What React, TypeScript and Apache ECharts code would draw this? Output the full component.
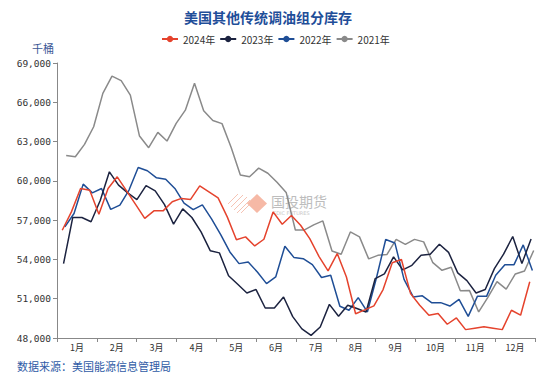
import React, { useEffect, useRef } from "react";
import * as echarts from "echarts";

const months = ["1月", "2月", "3月", "4月", "5月", "6月", "7月", "8月", "9月", "10月", "11月", "12月"];
const seriesNames = ["2024年", "2023年", "2022年", "2021年"];
const firstWeekEnd = ["2024-01-05", "2023-01-06", "2022-01-07", "2021-01-08"];
const colors = ["#E5432D", "#1C2340", "#1F4E96", "#8A8A8A"];

const v2024 = [56230, 57630, 59420, 59290, 57450, 59420, 60310, 59250, 58200, 57130, 57710, 57710, 58400, 58660, 58580, 59620, 59160, 58700, 57250, 55500, 55720, 55030, 55540, 57630, 56690, 57350, 56610, 55590, 54240, 53120, 54450, 52660, 49850, 50150, 50450, 51700, 53750, 53990, 51390, 50500, 49740, 49870, 49050, 49530, 48640, 48750, 48860, 48750, 48640, 50120, 49740, 52300];
const v2023 = [53680, 57200, 57200, 56880, 58500, 60690, 59670, 59080, 58570, 59640, 59240, 58200, 56700, 57860, 57200, 56100, 54670, 54500, 52750, 52100, 51440, 51700, 50290, 50290, 51130, 49630, 48700, 48200, 48840, 50570, 49660, 50500, 50250, 49990, 52540, 52900, 54190, 53200, 53550, 54320, 54390, 55160, 54540, 52970, 52380, 51440, 51700, 53300, 54400, 55750, 53690, 55560];
const v2022 = [56490, 57510, 59750, 59080, 59420, 57820, 58150, 59300, 61020, 60770, 60230, 60130, 59420, 58300, 57800, 58170, 57100, 55900, 54570, 53680, 53810, 53040, 52150, 52660, 55010, 54140, 54060, 53600, 52620, 52790, 50420, 50120, 51080, 49990, 52620, 55520, 55260, 52480, 51140, 51220, 50700, 50700, 50440, 50950, 49650, 51180, 51180, 52790, 53600, 53600, 55110, 53150];
const v2021 = [61940, 61840, 62790, 64130, 66680, 68000, 67650, 66550, 63420, 62530, 63700, 63040, 64390, 65400, 67450, 65350, 64610, 64370, 62540, 60440, 60310, 60970, 60580, 59890, 59120, 56250, 56250, 56640, 56940, 54640, 54390, 56100, 55720, 54040, 54310, 54380, 55530, 55150, 55530, 55340, 53750, 53170, 53400, 51610, 51620, 49990, 51100, 52300, 51730, 52890, 53120, 54680];
const allValues = [v2024, v2023, v2022, v2021];

const yMin = 48000;
const yMax = 69000;
const yStep = 3000;
const daysInYear = 365;

function dayOffset(iso: string): number {
  const d = new Date(iso + "T00:00:00Z");
  const start = Date.UTC(d.getUTCFullYear(), 0, 1);
  return (d.getTime() - start) / 86400000;
}

export default function App() {
  const ref = useRef<HTMLDivElement>(null);
  useEffect(() => {
    if (!ref.current) return;
    const chart = echarts.init(ref.current, undefined, { renderer: "svg" });
    const series = seriesNames.map((name, k) => {
      const start = dayOffset(firstWeekEnd[k]);
      return {
        name,
        type: "line",
        xAxisIndex: 1,
        symbol: "circle",
        showSymbol: false,
        symbolSize: 6,
        color: colors[k],
        lineStyle: { width: 1.5, color: colors[k] },
        z: 10 - k,
        data: allValues[k].map((v, i) => [start + 7 * i, v]),
      };
    });
    chart.setOption({
      animation: false,
      backgroundColor: "#ffffff",
      grid: { left: 57, right: 15, top: 63, bottom: 43, containLabel: false },
      legend: {
        data: seriesNames,
        left: 156,
        top: 29,
        itemWidth: 16,
        itemHeight: 8,
        itemGap: 4,
        textStyle: { fontSize: 10, color: "#333", fontFamily: "Noto Sans CJK SC" },
      },
      xAxis: [
        {
          type: "category",
          data: months,
          boundaryGap: true,
          axisLine: { lineStyle: { color: "#888", width: 1 } },
          axisTick: { show: true, length: 4, lineStyle: { color: "#888" } },
          axisLabel: { fontSize: 9, color: "#333", margin: 5, fontFamily: "Noto Sans CJK SC" },
          splitLine: { show: false },
        },
        {
          type: "value",
          min: 0,
          max: daysInYear,
          show: false,
          splitLine: { show: false },
        },
      ],
      yAxis: {
        type: "value",
        min: yMin,
        max: yMax,
        interval: yStep,
        axisLine: { show: true, lineStyle: { color: "#888", width: 1 } },
        axisTick: { show: true, length: 4, lineStyle: { color: "#888" } },
        axisLabel: {
          fontSize: 9.5,
          color: "#333",
          margin: 6,
          fontFamily: "DejaVu Sans Mono",
          formatter: (v: number) => v.toLocaleString("en-US"),
        },
        splitLine: { show: false },
      },
      graphic: [
        {
          type: "text",
          x: 268,
          y: 17,
          style: {
            text: "美国其他传统调油组分库存",
            fill: "#1F4E99",
            font: "bold 14px 'Noto Sans CJK SC'",
            textAlign: "center",
            textVerticalAlign: "middle",
          },
        },
        {
          type: "text",
          x: 32,
          y: 48,
          style: {
            text: "千桶",
            fill: "#3B5896",
            font: "11px 'Noto Sans CJK SC'",
            textAlign: "left",
            textVerticalAlign: "middle",
          },
        },
        {
          type: "text",
          x: 17,
          y: 366,
          style: {
            text: "数据来源：美国能源信息管理局",
            fill: "#2F5BA6",
            font: "11px 'Noto Sans CJK SC'",
            textAlign: "left",
            textVerticalAlign: "middle",
          },
        },
        {
          type: "group",
          z: 1,
          children: [
            { type: "line", shape: { x1: 228, y1: 204, x2: 238, y2: 194 }, style: { stroke: "#F6C3B4", lineWidth: 1 } },
            { type: "line", shape: { x1: 231, y1: 207, x2: 243, y2: 195 }, style: { stroke: "#F6C3B4", lineWidth: 1 } },
            { type: "line", shape: { x1: 234, y1: 210, x2: 247, y2: 197 }, style: { stroke: "#F6C3B4", lineWidth: 1 } },
            { type: "line", shape: { x1: 237, y1: 213, x2: 250, y2: 200 }, style: { stroke: "#F6C3B4", lineWidth: 1 } },
            { type: "line", shape: { x1: 241, y1: 213, x2: 252, y2: 202 }, style: { stroke: "#F6C3B4", lineWidth: 1 } },
            { type: "polygon", shape: { points: [[257, 194], [267, 203.5], [257, 213], [247, 203.5]] }, style: { fill: "#F6B9A6" } },
            {
              type: "text",
              x: 271,
              y: 200.5,
              style: { text: "国投期货", fill: "#BDBDBD", font: "14px 'Noto Sans CJK SC'", textAlign: "left", textVerticalAlign: "middle" },
            },
            {
              type: "text",
              x: 273,
              y: 212.5,
              style: { text: "SDIC FUTURES", fill: "#C8C8C8", font: "5px 'DejaVu Sans'", textAlign: "left", textVerticalAlign: "middle" },
            },
          ],
        },
      ],
      series,
    });
    return () => chart.dispose();
  }, []);
  return <div ref={ref} style={{ width: 550, height: 381, position: "absolute", left: 0, top: 0 }} />;
}
